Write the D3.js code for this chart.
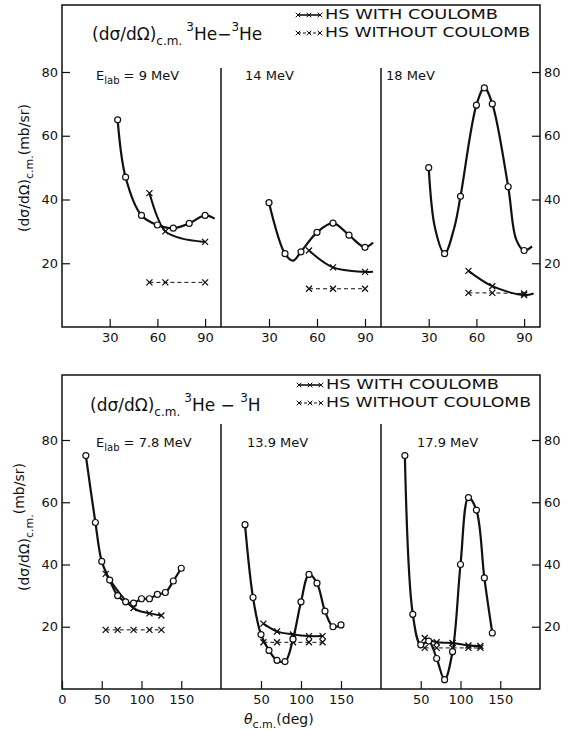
<!DOCTYPE html>
<html>
<head>
<meta charset="utf-8">
<script src="https://cdn.jsdelivr.net/npm/d3@7"></script>
<style>
  body { margin: 0; background: #fff; }
  svg { font-family: "DejaVu Sans", sans-serif; }
</style>
</head>
<body>
<script>
// ---- data (angle deg, mb/sr) ----
// 3He-3He
const he9Circ = [[35,65],[40,47],[50,35],[60,32],[70,31],[80,32.5],[90,35]]
const he9Curve = [[35,65],[40,47],[50,35],[60,32],[70,31],[80,32.5],[90,35],[96,34]]
const he9With = [[55,42],[65,30],[90,26.7]]
const he9WithCurve = [[55,42],[60,34.5],[65,30],[75,27.8],[90,26.7]]
const he9Without = [[55,14],[65,14],[90,14]]

const he14Circ = [[30,39],[40,23],[50,23.6],[60,29.7],[70,32.6],[80,28.8],[90,25]]
const he14Curve = [[30,39],[40,23],[45,20.8],[50,23.6],[60,29.7],[70,32.6],[80,28.8],[90,25],[95,26.5]]
const he14With = [[55,24],[70,18.7],[90,17.3]]
const he14WithCurve = [[55,24],[70,18.7],[90,17.3],[95,17.3]]
const he14Without = [[55,12],[70,12],[90,12]]

const he18Circ = [[30,50],[40,23],[50,41],[60,69.6],[65,75],[70,70],[80,44],[90,24]]
const he18Curve = [[30,50],[34,31],[40,23],[46,31],[50,41],[60,69.6],[65,75],[70,70],[80,44],[85,27.5],[90,24],[95,25.3]]
const he18With = [[55,17.6],[70,12.8],[90,10]]
const he18WithCurve = [[55,17.6],[70,12.8],[90,10],[96,10.5]]
const he18Without = [[55,10.7],[70,10.7],[90,10.5]]

// 3He-3H
const h78Circ = [[30,75],[42,53.5],[50,41],[60,35],[70,30],[80,28],[90,27.6],[100,29],[110,29],[120,30.4],[130,31],[140,34.7],[150,38.8]]
const h78With = [[55,37],[90,26],[110,24.3],[125,23.6]]
const h78Without = [[55,19],[70,19],[90,19],[110,19],[125,19]]

const h139Circ = [[30,52.8],[40,29.4],[50,17.5],[60,12.4],[70,9.2],[80,8.8],[90,16],[100,28],[110,36.8],[120,34],[130,25],[140,20],[150,20.6]]
const h139With = [[53,21],[70,18.5],[90,17.5],[110,17],[127,17]]
const h139Without = [[53,15],[70,15],[90,15],[110,15],[127,15]]

const h179Circ = [[30,75],[40,24],[50,14.2],[60,15.4],[70,9.8],[80,3],[90,12],[100,40],[110,61.5],[120,57.5],[130,35.7],[140,18]]
const h179With = [[55,16.4],[70,15],[90,14.8],[110,14],[125,13.8]]
const h179Without = [[55,13.2],[70,13.2],[90,13.2],[110,13.2],[125,13.2]]

const yTicks = [20,40,60,80]
const topXTicks = [30,60,90]
const botXTicks = [50,100,150]
const topEnergies = ["9 MeV","14 MeV","18 MeV"]
const botEnergies = ["7.8 MeV","13.9 MeV","17.9 MeV"]
const legendText = ["HS  WITH  COULOMB", "HS  WITHOUT  COULOMB"]

const width = 569, height = 730
const svg = d3.select("body").append("svg").attr("width", width).attr("height", height)

const edges = [62, 221, 381, 540]

function crossPath(s) {
  return `M${-s},${-s}L${s},${s}M${-s},${s}L${s},${-s}`
}

function drawRow(cfg) {
  const g = svg.append("g")
  const y = d3.scaleLinear().domain([0,80]).range([cfg.y0, cfg.y80])

  // frame
  g.append("rect").attr("x", edges[0]).attr("y", cfg.top)
    .attr("width", edges[3]-edges[0]).attr("height", cfg.y0-cfg.top)
    .attr("fill","none").attr("stroke","#111").attr("stroke-width",1.5)
  ;[edges[1], edges[2]].forEach(xv => {
    g.append("line").attr("x1",xv).attr("x2",xv).attr("y1",cfg.divTop).attr("y2",cfg.y0)
      .attr("stroke","#111").attr("stroke-width",1.5)
  })

  // y axes (ticks inside)
  const left = g.append("g").attr("transform",`translate(${edges[0]},0)`)
    .call(d3.axisLeft(y).tickValues(yTicks).tickSizeInner(-8).tickSizeOuter(0).tickPadding(4))
  const right = g.append("g").attr("transform",`translate(${edges[3]},0)`)
    .call(d3.axisRight(y).tickValues(yTicks).tickSizeInner(-8).tickSizeOuter(0).tickPadding(4))
  ;[left, right].forEach(a => {
    a.select(".domain").remove()
    a.selectAll("line").attr("stroke","#111").attr("stroke-width",1.2)
    a.selectAll("text").attr("font-size",13).attr("fill","#111").attr("font-family","DejaVu Sans")
  })

  cfg.panels.forEach((p, i) => {
    const x = d3.scaleLinear().domain(cfg.xDomain).range([edges[i], edges[i+1]])
    const ax = g.append("g").attr("transform",`translate(0,${cfg.y0})`)
      .call(d3.axisBottom(x).tickValues(i === 0 && cfg.zeroLabel ? [0].concat(cfg.xTicks) : cfg.xTicks)
        .tickSizeInner(-8).tickSizeOuter(0).tickPadding(6))
    ax.select(".domain").remove()
    ax.selectAll("line").attr("stroke","#111").attr("stroke-width",1.2)
    ax.selectAll("text").attr("font-size",13).attr("fill","#111").attr("font-family","DejaVu Sans")

    const line = d3.line().x(d => x(d[0])).y(d => y(d[1])).curve(d3.curveCatmullRom.alpha(0.5))
    const straight = d3.line().x(d => x(d[0])).y(d => y(d[1]))

    // without coulomb dashed
    g.append("path").attr("d", straight(p.without)).attr("fill","none")
      .attr("stroke","#111").attr("stroke-width",1).attr("stroke-dasharray","4,3")
    // with coulomb
    g.append("path").attr("d", line(p.withCurve || p.with)).attr("fill","none")
      .attr("stroke","#111").attr("stroke-width",2)
    // data curve
    g.append("path").attr("d", line(p.curve || p.circ)).attr("fill","none")
      .attr("stroke","#111").attr("stroke-width",2.2)

    g.selectAll(null).data(p.with.concat(p.without)).enter().append("path")
      .attr("d", crossPath(3)).attr("transform", d => `translate(${x(d[0])},${y(d[1])})`)
      .attr("stroke","#111").attr("stroke-width",1.3)
    g.selectAll(null).data(p.circ).enter().append("circle")
      .attr("cx", d => x(d[0])).attr("cy", d => y(d[1])).attr("r", 3)
      .attr("fill","#fff").attr("stroke","#111").attr("stroke-width",1.2)

    // energy label
    const t = g.append("text").attr("y", cfg.eY).attr("font-size",13).attr("fill","#111")
    if (i === 0) {
      t.attr("x", edges[0] + 34)
      t.append("tspan").text("E")
      t.append("tspan").attr("font-size",10).attr("dy",4).text("lab")
      t.append("tspan").attr("dy",-4).text(" = " + p.energy)
    } else {
      t.attr("x", edges[i] + cfg.eOff[i]).text(p.energy)
    }
  })

  // title
  const tt = g.append("text").attr("x", cfg.titleX).attr("y", cfg.titleY).attr("font-size",17).attr("fill","#111")
  tt.append("tspan").text("(dσ/dΩ)")
  tt.append("tspan").attr("font-size",12).attr("dy",5).text("c.m.")
  tt.append("tspan").attr("font-size",12).attr("dy",-14).attr("dx",4).text("3")
  tt.append("tspan").attr("dy",9).text("He" + cfg.dash)
  tt.append("tspan").attr("font-size",12).attr("dy",-9).text("3")
  tt.append("tspan").attr("dy",9).text(cfg.target)

  // legend
  const lx = cfg.legX
  const rows = [[legendText[0], null, 173], [legendText[1], "3,2", 205]]
  rows.forEach((r, k) => {
    const ly = cfg.legY + k*18
    g.append("line").attr("x1", lx).attr("x2", lx+22).attr("y1", ly-4).attr("y2", ly-4)
      .attr("stroke","#111").attr("stroke-width", r[1] ? 1 : 1.6).attr("stroke-dasharray", r[1])
    ;[0, 11, 22].forEach(o => {
      g.append("path").attr("d", crossPath(2.3)).attr("transform",`translate(${lx+o},${ly-4})`)
        .attr("stroke","#111").attr("stroke-width",1)
    })
    g.append("text").attr("x", lx+27).attr("y", ly).attr("font-size",13.5).attr("fill","#111")
      .attr("textLength", r[2]).attr("lengthAdjust","spacingAndGlyphs").text(r[0])
  })

  // y label
  const yl = g.append("text").attr("transform",`translate(${cfg.yLabX},${cfg.yLabY}) rotate(-90)`)
    .attr("text-anchor","middle").attr("font-size",14).attr("fill","#111")
  yl.append("tspan").text("(dσ/dΩ)")
  yl.append("tspan").attr("font-size",11).attr("dy",4).text("c.m.")
  yl.append("tspan").attr("dy", cfg.supUnits ? -9 : -4).text("(mb/sr)")
}

drawRow({
  top: 5, divTop: 68, y0: 327, y80: 72, xDomain: [0,100], xTicks: topXTicks, zeroLabel: false,
  eY: 80, eOff: [0, 24, 5], titleX: 92, titleY: 40, dash: "−", target: "He",
  legX: 298, legY: 19, yLabX: 29, yLabY: 168, supUnits: false,
  panels: [
    {circ: he9Circ, curve: he9Curve, with: he9With, withCurve: he9WithCurve, without: he9Without, energy: topEnergies[0]},
    {circ: he14Circ, curve: he14Curve, with: he14With, withCurve: he14WithCurve, without: he14Without, energy: topEnergies[1]},
    {circ: he18Circ, curve: he18Curve, with: he18With, withCurve: he18WithCurve, without: he18Without, energy: topEnergies[2]}
  ]
})

drawRow({
  top: 375, divTop: 424, y0: 689, y80: 440, xDomain: [0,200], xTicks: botXTicks, zeroLabel: true,
  eY: 447, eOff: [0, 26, 36], titleX: 90, titleY: 411, dash: " − ", target: "H",
  legX: 299, legY: 389, yLabX: 29, yLabY: 527, supUnits: true,
  panels: [
    {circ: h78Circ, with: h78With, without: h78Without, energy: botEnergies[0]},
    {circ: h139Circ, with: h139With, without: h139Without, energy: botEnergies[1]},
    {circ: h179Circ, with: h179With, without: h179Without, energy: botEnergies[2]}
  ]
})

// x axis title
const xt = svg.append("text").attr("x", 244).attr("y", 724).attr("font-size",14).attr("fill","#111")
xt.append("tspan").attr("font-style","italic").text("θ")
xt.append("tspan").attr("font-size",11).attr("dy",4).text("c.m.")
xt.append("tspan").attr("dy",-4).text("(deg)")
</script>
</body>
</html>
